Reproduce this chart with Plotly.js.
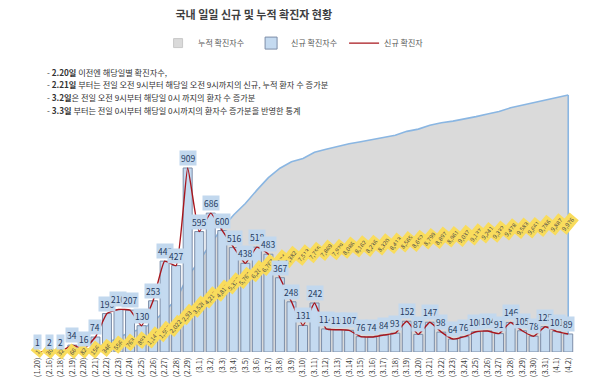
<!DOCTYPE html>
<html>
<head>
<meta charset="utf-8">
<script src="https://cdn.plot.ly/plotly-3.0.1.min.js"></script>
<style>html,body{margin:0;padding:0;background:#fff;}#chart{width:600px;height:387px;}</style>
</head>
<body>
<div id="chart"></div>
<script>
const dates = ["(1.20)","(2.16)","(2.18)","(2.19)","(2.20)","(2.21)","(2.22)","(2.23)","(2.24)","(2.25)","(2.26)","(2.27)","(2.28)","(2.29)",
"(3.1)","(3.2)","(3.3)","(3.4)","(3.5)","(3.6)","(3.7)","(3.8)","(3.9)","(3.10)","(3.11)","(3.12)","(3.13)","(3.14)","(3.15)","(3.16)",
"(3.17)","(3.18)","(3.19)","(3.20)","(3.21)","(3.22)","(3.23)","(3.24)","(3.25)","(3.26)","(3.27)","(3.28)","(3.29)","(3.30)","(3.31)","(4.1)","(4.2)"];
const newCases = [1,2,2,34,16,74,190,210,207,130,253,449,427,909,
595,686,600,516,438,518,483,367,248,131,242,114,110,107,76,74,
84,93,152,87,147,98,64,76,100,104,91,146,105,78,125,101,89];
const cumCases = [1,30,32,66,82,156,346,556,763,893,1146,1595,2022,2931,
3526,4212,4812,5328,5766,6284,6767,7134,7382,7513,7755,7869,7979,8086,8162,8236,
8320,8413,8565,8652,8799,8897,8961,9037,9137,9241,9332,9478,9583,9661,9786,9887,9976];
const seriesNames = ["누적 확진자수","신규 확진자수","신규 확진자"];
const titleText = "국내 일일 신규 및 누적 확진자 현황";
const notes = [
 "- <b>2.20일</b> 이전엔 해당일별 확진자수,",
 "- <b>2.21일</b> 부터는 전일 오전 9시부터 해당일 오전 9시까지의 신규, 누적 환자 수 증가분",
 "- <b>3.2일</b>은 전일 오전 9시부터 해당일 0시 까지의 환자 수 증가분",
 "- <b>3.3일</b> 부터는 전일 0시부터 해당일 0시까지의 환자수 증가분을 반영한 통계"
];

const FONT = "'Noto Sans CJK KR', 'Noto Sans', sans-serif";
const last = dates.length - 1;

const traces = [
 {type:'scatter', mode:'markers', x:[null], y:[null], yaxis:'y', name:seriesNames[0],
  marker:{symbol:'square', size:9, color:'#dadada', line:{color:'#c8c8c8', width:1}}, hoverinfo:'skip'},
 {type:'scatter', mode:'lines', x:dates, y:cumCases, yaxis:'y', name:seriesNames[0], showlegend:false,
  fill:'tozeroy', fillcolor:'#dadada', line:{color:'#8ab6e2', width:1.6}, hoverinfo:'skip'},
 {type:'scatter', mode:'lines', x:[dates[last],dates[last]], y:[cumCases[last],0], yaxis:'y',
  showlegend:false, line:{color:'#8ab6e2', width:1.6}, hoverinfo:'skip'},
 {type:'bar', x:dates, y:newCases, yaxis:'y2', name:seriesNames[1],
  marker:{color:'#c4daf0', line:{color:'#7d8ea8', width:1}}, hoverinfo:'skip'},
 {type:'scatter', mode:'lines', x:dates, y:newCases, yaxis:'y2', name:seriesNames[2],
  line:{color:'#a8161d', width:1.4, shape:'spline', smoothing:0.4}, hoverinfo:'skip'}
];

const annotations = [];
cumCases.forEach((v,i)=>{
 annotations.push({x:dates[i], y:v/2, xref:'x', yref:'y', text:v.toLocaleString('en-US'), showarrow:false,
  textangle:-50, bgcolor:'#f9dc5c', borderpad:1,
  font:{family:FONT, size:6, color:'#4a4a4a'}});
});
newCases.forEach((v,i)=>{
 annotations.push({x:dates[i], y:v, xref:'x', yref:'y2', text:String(v), showarrow:false,
  yanchor:'bottom', yshift:2, bgcolor:'#c2d8ee', borderpad:1,
  font:{family:FONT, size:8.5, color:'#1f3a60'}});
});
const noteTop = 1.05, noteStep = 0.048;
notes.forEach((t,i)=>{
 annotations.push({xref:'paper', yref:'paper', x:0.024, y:noteTop - i*noteStep, xanchor:'left', yanchor:'middle', align:'left',
  showarrow:false, text:t, font:{family:FONT, size:8.2, color:'#333'}});
});

const layout = {
 width:600, height:387,
 margin:{l:32, r:26, t:85, b:35},
 paper_bgcolor:'#fff', plot_bgcolor:'rgba(0,0,0,0)',
 title:{text:'<b>'+titleText+'</b>', x:0.423, xanchor:'center', y:0.962, yanchor:'middle',
  font:{family:FONT, size:11, color:'#404040'}},
 showlegend:true,
 legend:{orientation:'h', x:0.49, xanchor:'center', y:1.157, yanchor:'middle',
  font:{family:FONT, size:8, color:'#595959'}, itemwidth:30, entrywidth:48, tracegroupgap:0, bgcolor:'rgba(0,0,0,0)'},
 bargap:0.22,
 xaxis:{type:'category', categoryarray:dates, range:[-0.5, last+0.5], showgrid:false, zeroline:false,
  showline:false, ticks:'', tickangle:-90, ticklabelstandoff:3, tickfont:{family:FONT, size:7.5, color:'#404040'}, fixedrange:true},
 yaxis:{range:[0,10364], visible:false, fixedrange:true},
 yaxis2:{range:[0,1319], overlaying:'y', visible:false, fixedrange:true},
 annotations:annotations
};
Plotly.newPlot('chart', traces, layout, {staticPlot:true, displayModeBar:false});
</script>
</body>
</html>
